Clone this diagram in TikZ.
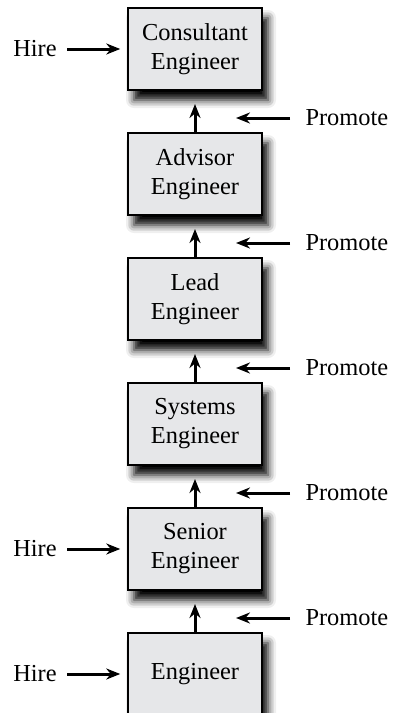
\documentclass[tikz,border=0pt]{standalone}
\usepackage{fontspec}
\setmainfont{Liberation Serif}
\usetikzlibrary{arrows.meta,shadows.blur}
\definecolor{boxgray}{RGB}{230,231,233}

\begin{document}
\begin{tikzpicture}[x=1pt,y=-1pt]
\useasboundingbox (0,0) rectangle (396,713);
\begin{scope}[every node/.style={rectangle,draw,line width=1.5pt,fill=boxgray,
              minimum width=134pt,minimum height=82pt,align=center,
              font=\fontsize{24.4}{29}\selectfont,
              blur shadow={shadow xshift=6pt,shadow yshift=-10pt,shadow blur radius=8pt,shadow opacity=100}}]
    \node (b1) at (195,49) {Consultant\\Engineer};
    \node (b2) at (195,174) {Advisor\\Engineer};
    \node (b3) at (195,299) {Lead\\Engineer};
    \node (b4) at (195,424) {Systems\\Engineer};
    \node (b5) at (195,549) {Senior\\Engineer};
    \node (b6) at (195,674) {Engineer};
\end{scope}
\begin{scope}[every node/.style={font=\fontsize{24.4}{29}\selectfont}]
    \node (h1) at (35,49) {Hire};
    \node (h5) at (35,549) {Hire};
    \node (h6) at (35,674) {Hire};
    \node[anchor=west] (p1) at (302,118) {Promote};
    \node[anchor=west] (p2) at (302,243) {Promote};
    \node[anchor=west] (p3) at (302,368) {Promote};
    \node[anchor=west] (p4) at (302,493) {Promote};
    \node[anchor=west] (p5) at (302,618) {Promote};
\end{scope}
% free ends of the arrows
\coordinate (t1) at (195,104);
\coordinate (t2) at (195,229);
\coordinate (t3) at (195,354);
\coordinate (t4) at (195,479);
\coordinate (t5) at (195,604);
\coordinate (q1) at (236,118);
\coordinate (q2) at (236,243);
\coordinate (q3) at (236,368);
\coordinate (q4) at (236,493);
\coordinate (q5) at (236,618);
\begin{scope}[every edge/.style={draw=black,line width=3pt,
              -{Stealth[length=14pt,width=11pt]}}]
    \path (b2) edge (t1);
    \path (b3) edge (t2);
    \path (b4) edge (t3);
    \path (b5) edge (t4);
    \path (b6) edge (t5);
    \path[shorten <=12pt] (p1) edge (q1);
    \path[shorten <=12pt] (p2) edge (q2);
    \path[shorten <=12pt] (p3) edge (q3);
    \path[shorten <=12pt] (p4) edge (q4);
    \path[shorten <=12pt] (p5) edge (q5);
    \path[shorten <=7pt,shorten >=7pt] (h1) edge (b1);
    \path[shorten <=7pt,shorten >=7pt] (h5) edge (b5);
    \path[shorten <=7pt,shorten >=7pt] (h6) edge (b6);
\end{scope}
\end{tikzpicture}
\end{document}
